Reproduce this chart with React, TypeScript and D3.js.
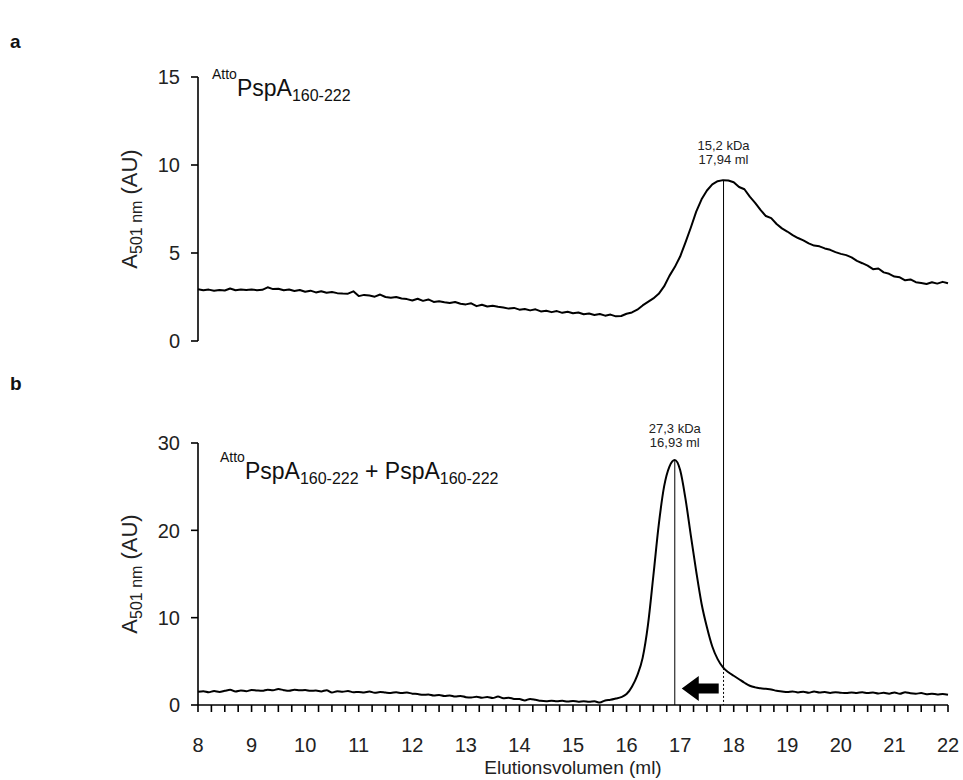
import React from "react";
import * as d3 from "d3";

// Elution volume grid (ml), 0.1 ml steps from 8 to 22
const volumes: number[] = d3.range(0, 141).map((i) => +(8 + i * 0.1).toFixed(1));

// Panel a: AttoPspA160-222 absorbance at 501 nm
const seriesA: number[] = [
  2.94, 2.88, 2.92, 2.86, 2.90, 2.87, 2.98, 2.88, 2.92, 2.90,
  2.93, 2.89, 2.91, 3.05, 2.95, 2.97, 2.88, 2.93, 2.84, 2.90,
  2.80, 2.86, 2.76, 2.83, 2.74, 2.78, 2.72, 2.70, 2.69, 2.82,
  2.55, 2.62, 2.58, 2.52, 2.64, 2.50, 2.46, 2.50, 2.42, 2.38,
  2.30, 2.40, 2.28, 2.36, 2.22, 2.26, 2.20, 2.16, 2.22, 2.12,
  2.08, 2.14, 1.98, 2.06, 1.96, 2.00, 1.94, 1.90, 1.84, 1.88,
  1.78, 1.82, 1.74, 1.80, 1.68, 1.72, 1.64, 1.70, 1.60, 1.66,
  1.58, 1.62, 1.52, 1.56, 1.48, 1.53, 1.44, 1.50, 1.40, 1.42,
  1.55, 1.62, 1.78, 2.02, 2.22, 2.42, 2.68, 3.10, 3.70, 4.20,
  4.80, 5.60, 6.45, 7.35, 8.05, 8.55, 8.90, 9.08, 9.14, 9.12,
  9.02, 8.75, 8.62, 8.20, 7.85, 7.45, 7.10, 6.98, 6.65, 6.40,
  6.22, 6.02, 5.85, 5.72, 5.55, 5.42, 5.38, 5.26, 5.18, 5.05,
  4.95, 4.88, 4.75, 4.55, 4.42, 4.28, 4.08, 4.12, 3.90, 3.82,
  3.66, 3.62, 3.45, 3.50, 3.34, 3.30, 3.24, 3.34, 3.26, 3.36,
  3.28,
];

// Panel b: AttoPspA160-222 + PspA160-222
const seriesB: number[] = [
  1.52, 1.58, 1.46, 1.60, 1.50, 1.62, 1.74, 1.55, 1.66, 1.58,
  1.72, 1.66, 1.62, 1.76, 1.68, 1.84, 1.70, 1.62, 1.74, 1.68,
  1.72, 1.62, 1.66, 1.56, 1.70, 1.42, 1.58, 1.52, 1.60, 1.46,
  1.50, 1.44, 1.54, 1.40, 1.48, 1.42, 1.38, 1.46, 1.36, 1.42,
  1.30, 1.26, 1.16, 1.20, 1.08, 1.14, 1.02, 1.10, 0.96, 1.04,
  0.90, 0.86, 0.94, 0.82, 0.92, 0.80, 0.96, 0.78, 0.84, 0.70,
  0.68, 0.52, 0.70, 0.60, 0.48, 0.44, 0.50, 0.42, 0.48, 0.40,
  0.46, 0.38, 0.44, 0.36, 0.42, 0.28, 0.52, 0.60, 0.74, 0.90,
  1.25, 2.10, 3.40, 5.40, 9.20, 14.8, 20.6, 25.0, 27.3, 28.05,
  26.9, 23.6, 19.4, 15.3, 11.6, 8.9, 6.7, 5.25, 4.30, 3.75,
  3.35, 2.95, 2.55, 2.20, 2.02, 1.92, 1.85, 1.78, 1.62, 1.55,
  1.48, 1.56, 1.44, 1.52, 1.40, 1.55, 1.44, 1.48, 1.38, 1.46,
  1.40, 1.36, 1.44, 1.38, 1.46, 1.36, 1.44, 1.32, 1.40, 1.30,
  1.44, 1.28, 1.46, 1.34, 1.30, 1.36, 1.24, 1.30, 1.20, 1.26,
  1.18,
];

const xTicks: number[] = [8, 9, 10, 11, 12, 13, 14, 15, 16, 17, 18, 19, 20, 21, 22];
const yTicksA: number[] = [0, 5, 10, 15];
const yTicksB: number[] = [0, 10, 20, 30];

// Peak annotations
const peakA = { pos: 17.81, value: 9.15, kda: "15,2 kDa", ml: "17,94 ml" };
const peakB = { pos: 16.9, value: 28.05, kda: "27,3 kDa", ml: "16,93 ml" };
// Arrow (tip / tail in ml, height in AU of panel b)
const arrowSpec = { tip: 17.03, tail: 17.72, level: 1.9 };

const FONT = "'Liberation Sans', Arial, Helvetica, sans-serif";

export default function App() {
  const W = 963;
  const H = 780;
  const x = d3.scaleLinear().domain([8, 22]).range([198, 948]);
  const yA = d3.scaleLinear().domain([0, 15]).range([341, 77]);
  const yB = d3.scaleLinear().domain([0, 30]).range([705, 443]);

  const lineA = d3
    .line<number>()
    .x((_, i) => x(volumes[i]))
    .y((d) => yA(d));
  const lineB = d3
    .line<number>()
    .curve(d3.curveMonotoneX)
    .x((_, i) => x(volumes[i]))
    .y((d) => yB(d));

  const interpB = (v: number) => {
    const i = d3.bisectLeft(volumes, v);
    if (i <= 0) return seriesB[0];
    const x0 = volumes[i - 1], x1 = volumes[i];
    const t = (v - x0) / (x1 - x0);
    return seriesB[i - 1] + t * (seriesB[i] - seriesB[i - 1]);
  };

  const minorTicks = d3.range(0, 57).map((i) => 8 + i * 0.25);
  const crossB = interpB(peakA.pos);

  // arrow geometry
  const tipX = x(arrowSpec.tip);
  const tailX = x(arrowSpec.tail);
  const cy = yB(arrowSpec.level);
  const headBase = tipX + 17;
  const arrowPts = [
    [tipX, cy],
    [headBase, cy - 12.5],
    [headBase, cy - 5],
    [tailX, cy - 5],
    [tailX, cy + 5],
    [headBase, cy + 5],
    [headBase, cy + 12.5],
  ]
    .map((p) => p.join(","))
    .join(" ");

  const axisStroke = 1.6;

  const yLabel = (cy: number) => (
    <text transform={`translate(137,${cy}) rotate(-90)`} textAnchor="middle" fontSize={22} fill="#222">
      A<tspan fontSize={16} dy={5}>501 nm</tspan>
      <tspan dy={-5}> (AU)</tspan>
    </text>
  );

  return (
    <svg
      width={W}
      height={H}
      style={{ position: "absolute", left: 0, top: 0, background: "#fff" }}
      fontFamily={FONT}
    >
      {/* panel letters */}
      <text x={10} y={48} fontSize={19} fontWeight="bold" fill="#111">a</text>
      <text x={10} y={390} fontSize={19} fontWeight="bold" fill="#111">b</text>

      {/* ---------- Panel a ---------- */}
      <line x1={198} x2={198} y1={yA(0)} y2={yA(15)} stroke="#000" strokeWidth={axisStroke} />
      {yTicksA.map((t) => (
        <g key={"ya" + t}>
          <line x1={191} x2={198} y1={yA(t)} y2={yA(t)} stroke="#000" strokeWidth={axisStroke} />
          <text x={180} y={yA(t)} dy="0.36em" textAnchor="end" fontSize={20} fill="#222">
            {t}
          </text>
        </g>
      ))}
      {yLabel((yA(0) + yA(15)) / 2)}
      <text x={212} y={96} fontSize={23} fill="#111">
        <tspan fontSize={14} dy={-17}>Atto</tspan>
        <tspan dy={17}>PspA</tspan>
        <tspan fontSize={16} dy={5}>160-222</tspan>
      </text>
      <path d={lineA(seriesA) || ""} fill="none" stroke="#000" strokeWidth={2} strokeLinejoin="round" />

      {/* ---------- Panel b ---------- */}
      <line x1={198} x2={198} y1={yB(0)} y2={yB(30)} stroke="#000" strokeWidth={axisStroke} />
      {yTicksB.map((t) => (
        <g key={"yb" + t}>
          <line x1={191} x2={198} y1={yB(t)} y2={yB(t)} stroke="#000" strokeWidth={axisStroke} />
          <text x={180} y={yB(t)} dy="0.36em" textAnchor="end" fontSize={20} fill="#222">
            {t}
          </text>
        </g>
      ))}
      <line x1={x(8)} x2={x(22)} y1={yB(0)} y2={yB(0)} stroke="#000" strokeWidth={axisStroke} />
      {minorTicks.map((t) => (
        <line key={"xt" + t} x1={x(t)} x2={x(t)} y1={yB(0)} y2={yB(0) + 7} stroke="#000" strokeWidth={axisStroke} />
      ))}
      {xTicks.map((t) => (
        <text key={"xl" + t} x={x(t)} y={752} textAnchor="middle" fontSize={20} fill="#222">
          {t}
        </text>
      ))}
      <text x={573} y={774} textAnchor="middle" fontSize={19} fill="#222">
        Elutionsvolumen (ml)
      </text>
      {yLabel((yB(0) + yB(30)) / 2)}
      <text x={220} y={479} fontSize={23} fill="#111">
        <tspan fontSize={14} dy={-17}>Atto</tspan>
        <tspan dy={17}>PspA</tspan>
        <tspan fontSize={16} dy={5}>160-222</tspan>
        <tspan dy={-5}> + PspA</tspan>
        <tspan fontSize={16} dy={5}>160-222</tspan>
      </text>
      <path d={lineB(seriesB) || ""} fill="none" stroke="#000" strokeWidth={2} strokeLinejoin="round" />

      {/* ---------- annotations ---------- */}
      <line x1={x(peakA.pos)} x2={x(peakA.pos)} y1={yA(peakA.value)} y2={yB(crossB)} stroke="#000" strokeWidth={1} />
      <line x1={x(peakA.pos)} x2={x(peakA.pos)} y1={yB(crossB)} y2={yB(0)} stroke="#000" strokeWidth={1} strokeDasharray="2,2" />
      <line x1={x(peakB.pos)} x2={x(peakB.pos)} y1={yB(peakB.value)} y2={yB(0)} stroke="#000" strokeWidth={1} />
      <text x={x(peakA.pos)} y={150} textAnchor="middle" fontSize={13} fill="#222">{peakA.kda}</text>
      <text x={x(peakA.pos)} y={164} textAnchor="middle" fontSize={13} fill="#222">{peakA.ml}</text>
      <text x={x(peakB.pos)} y={433} textAnchor="middle" fontSize={13} fill="#222">{peakB.kda}</text>
      <text x={x(peakB.pos)} y={447} textAnchor="middle" fontSize={13} fill="#222">{peakB.ml}</text>
      <polygon points={arrowPts} fill="#000" />
    </svg>
  );
}
